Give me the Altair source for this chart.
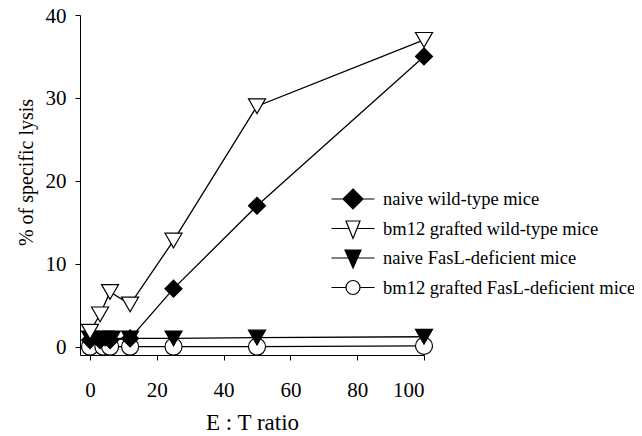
import altair as alt
import pandas as pd

series = [
    "naive wild-type mice",
    "bm12 grafted wild-type mice",
    "naive FasL-deficient mice",
    "bm12 grafted FasL-deficient mice",
]

ratio_naive_wt = [0, 3, 6, 12, 25, 50, 100]
lysis_naive_wt = [0.8, 0.8, 0.8, 1.0, 7, 17, 35]

ratio_bm12_wt = [0, 3, 6, 12, 25, 50, 100]
lysis_bm12_wt = [1.8, 3.9, 6.6, 5.1, 12.8, 29, 37]

ratio_naive_fasl = [0, 4.5, 6.5, 12, 25, 50, 100]
lysis_naive_fasl = [1.0, 1.0, 1.0, 1.0, 1.0, 1.1, 1.2]

ratio_bm12_fasl = [0, 4, 6, 12, 25, 50, 100]
lysis_bm12_fasl = [0, 0, 0, 0, 0, 0, 0.1]

x_ticks = [0, 20, 40, 60, 80, 100]
y_ticks = [0, 10, 20, 30, 40]

marker_shapes = ["diamond", "triangle-down", "triangle-down", "circle"]
marker_fills = ["black", "white", "black", "white"]
marker_strokes = ["black", "black", "black", "black"]
legend_shapes = [
    "M-2.15,0H-1M1,0H2.15M0,-1L1,0L0,1L-1,0Z",
    "M-2.15,0H-0.4M0.4,0H2.15M-0.7,-0.75L0.7,-0.75L0,1Z",
    "M-2.15,0H-0.45M0.45,0H2.15M-0.8,-0.8L0.8,-0.8L0,1Z",
    "M-2.15,0H-0.7M0.7,0H2.15M-0.7,0A0.7,0.7,0,1,1,0.7,0A0.7,0.7,0,1,1,-0.7,0Z",
]

rows = []
for name, xs, ys in [
    (series[3], ratio_bm12_fasl, lysis_bm12_fasl),
    (series[2], ratio_naive_fasl, lysis_naive_fasl),
    (series[0], ratio_naive_wt, lysis_naive_wt),
    (series[1], ratio_bm12_wt, lysis_bm12_wt),
]:
    for xv, yv in zip(xs, ys):
        rows.append({"series": name, "ratio": xv, "lysis": yv})
df = pd.DataFrame(rows)

FONT = "Liberation Serif"

x_enc = alt.X(
    "ratio:Q",
    scale=alt.Scale(domain=[-3, 100], nice=False, zero=False),
    axis=alt.Axis(values=x_ticks, title="E : T ratio", labelPadding=19, titlePadding=11,
                  titleFontSize=23),
)
y_enc = alt.Y(
    "lysis:Q",
    scale=alt.Scale(domain=[-1, 40], nice=False, zero=False),
    axis=alt.Axis(values=y_ticks, title="% of specific lysis", labelPadding=9, labelOffset=1,
                  titleX=-44, titleY=157, titleFontSize=20),
)

lines = alt.Chart(df).mark_line(color="black", strokeWidth=1.3).encode(
    x=x_enc, y=y_enc, detail="series:N", order="ratio:Q"
)

points = alt.Chart(df).mark_point(
    filled=True, stroke="black", strokeWidth=1.2, size=289, opacity=1
).encode(
    x=x_enc,
    y=y_enc,
    shape=alt.Shape("series:N", scale=alt.Scale(domain=series, range=marker_shapes), legend=None),
    fill=alt.Fill("series:N", scale=alt.Scale(domain=series, range=marker_fills), legend=None),
)

leg = alt.Legend(
    title=None,
    orient="none",
    legendX=262,
    legendY=173,
    symbolSize=400,
    symbolStrokeColor="black",
    symbolStrokeWidth=1.2,
    labelFont=FONT,
    labelFontSize=18.5,
    labelColor="black",
    labelOffset=19,
    rowPadding=5.5,
    padding=0,
    labelLimit=400,
)

legend_layer = alt.Chart(df).transform_filter("datum.ratio > 1000").mark_point(
    filled=True, strokeWidth=1.2, opacity=1
).encode(
    x=x_enc,
    y=y_enc,
    shape=alt.Shape("series:N", scale=alt.Scale(domain=series, range=legend_shapes), legend=leg),
    fill=alt.Fill("series:N", scale=alt.Scale(domain=series, range=marker_fills), legend=leg),
    stroke=alt.Stroke("series:N", scale=alt.Scale(domain=series, range=marker_strokes), legend=leg),
)

chart = (
    alt.layer(lines, points, legend_layer)
    .resolve_scale(shape="independent", fill="independent", stroke="independent")
    .properties(
        width=344,
        height=340,
        autosize=alt.AutoSizeParams(type="none"),
        padding={"left": 72, "top": 7, "right": 210, "bottom": 81},
        background="white",
    )
    .configure_view(stroke=None)
    .configure_axis(
        grid=False,
        domainColor="black",
        domainWidth=1,
        tickColor="black",
        tickSize=5,
        labelColor="black",
        titleColor="black",
        labelFont=FONT,
        titleFont=FONT,
        labelFontSize=21,
        titleFontSize=21,
        titleFontWeight="normal",
    )
)

chart.save("out.html", embed_options={"renderer": "svg", "actions": False})
